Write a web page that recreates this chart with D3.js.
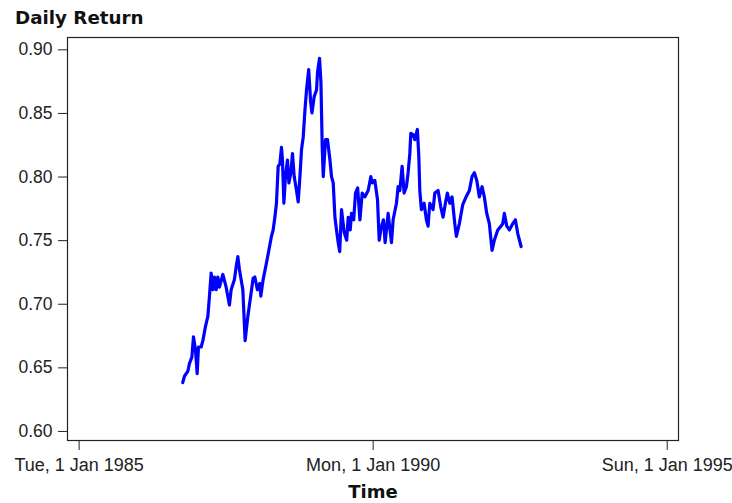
<!DOCTYPE html>
<html>
<head>
<meta charset="utf-8">
<script src="https://cdn.jsdelivr.net/npm/d3@7"></script>
<style>
  html, body { margin: 0; padding: 0; background: #fff; }
  svg { display: block; }
</style>
</head>
<body>
<script>
// Observation times as decimal years
const years = [1986.771,1986.801,1986.859,1986.886,1986.927,1986.954,1986.988,1987.017,1987.039,1987.085,
  1987.114,1987.158,1987.199,1987.226,1987.255,1987.284,1987.311,1987.340,1987.369,1987.396,
  1987.454,1987.510,1987.566,1987.595,1987.651,1987.680,1987.709,1987.736,1987.794,1987.833,
  1987.876,1987.918,1987.969,1987.998,1988.042,1988.083,1988.100,1988.139,1988.195,1988.236,
  1988.280,1988.309,1988.338,1988.365,1988.394,1988.423,1988.450,1988.467,1988.491,1988.518,
  1988.552,1988.576,1988.610,1988.637,1988.666,1988.705,1988.734,1988.763,1988.790,1988.819,
  1988.848,1988.875,1988.912,1988.943,1988.967,1989.006,1989.045,1989.062,1989.096,1989.120,
  1989.142,1989.159,1989.198,1989.232,1989.273,1989.300,1989.329,1989.358,1989.385,1989.414,
  1989.439,1989.470,1989.516,1989.558,1989.584,1989.618,1989.640,1989.677,1989.708,1989.745,
  1989.783,1989.822,1989.867,1989.924,1989.969,1989.997,1990.037,1990.082,1990.111,1990.145,
  1990.184,1990.212,1990.263,1990.320,1990.348,1990.405,1990.433,1990.462,1990.501,1990.535,
  1990.574,1990.603,1990.632,1990.649,1990.688,1990.717,1990.761,1990.785,1990.802,1990.829,
  1990.875,1990.914,1990.943,1990.972,1991.028,1991.057,1991.113,1991.159,1991.198,1991.237,
  1991.271,1991.312,1991.351,1991.397,1991.424,1991.475,1991.533,1991.589,1991.645,1991.691,
  1991.730,1991.771,1991.815,1991.861,1991.900,1991.941,1991.985,1992.031,1992.070,1992.128,
  1992.184,1992.213,1992.240,1992.281,1992.325,1992.383,1992.427,1992.468,1992.524];

// Series values
const values = [0.638,0.643,0.647,0.653,0.658,0.674,0.664,0.645,0.666,0.666,
  0.671,0.682,0.690,0.706,0.724,0.711,0.721,0.711,0.721,0.713,
  0.723,0.713,0.699,0.711,0.719,0.729,0.737,0.727,0.711,0.671,
  0.689,0.703,0.720,0.721,0.711,0.716,0.706,0.719,0.732,0.742,
  0.753,0.758,0.768,0.779,0.808,0.810,0.823,0.813,0.779,0.800,
  0.813,0.795,0.803,0.818,0.800,0.789,0.780,0.800,0.821,0.831,
  0.852,0.868,0.884,0.860,0.850,0.863,0.868,0.882,0.893,0.874,
  0.823,0.800,0.829,0.829,0.813,0.800,0.795,0.768,0.758,0.748,
  0.741,0.774,0.756,0.750,0.768,0.758,0.771,0.766,0.787,0.791,
  0.766,0.787,0.784,0.789,0.800,0.795,0.797,0.782,0.750,0.760,
  0.766,0.748,0.771,0.748,0.766,0.779,0.792,0.789,0.808,0.787,
  0.792,0.803,0.818,0.834,0.833,0.829,0.837,0.816,0.789,0.774,
  0.779,0.766,0.761,0.779,0.774,0.787,0.789,0.776,0.768,0.779,
  0.787,0.779,0.784,0.763,0.753,0.763,0.778,0.784,0.789,0.800,
  0.803,0.797,0.784,0.792,0.784,0.771,0.763,0.742,0.750,0.758,
  0.761,0.763,0.771,0.761,0.758,0.763,0.766,0.755,0.745];

// Axis ticks
const xTickYears = [1985, 1990, 1995];
const yTickValues = [0.60, 0.65, 0.70, 0.75, 0.80, 0.85, 0.90];

const titleText = "Daily Return";
const xAxisTitle = "Time";

const W = 732, H = 503;
const plot = { left: 67, top: 37, right: 679, bottom: 441 };

function decimalYearToDate(t) {
  const y = Math.floor(t);
  const start = Date.UTC(y, 0, 1), end = Date.UTC(y + 1, 0, 1);
  return new Date(start + (t - y) * (end - start));
}

const data = years.map((t, i) => ({ date: decimalYearToDate(t), value: values[i] }));

const x = d3.scaleUtc()
  .domain([decimalYearToDate(1984.803), decimalYearToDate(1995.209)])
  .range([plot.left, plot.right]);

const y = d3.scaleLinear()
  .domain([0.5921, 0.9097])
  .range([plot.bottom, plot.top]);

const svg = d3.select("body").append("svg")
  .attr("width", W).attr("height", H);

// Title
svg.append("text")
  .attr("x", 15).attr("y", 23.5)
  .attr("font-family", "'DejaVu Sans', sans-serif")
  .attr("font-weight", "bold")
  .attr("font-size", 18.3)
  .attr("fill", "#111")
  .text(titleText);

// Y axis
const yAxis = svg.append("g")
  .attr("transform", `translate(${plot.left},0)`)
  .call(d3.axisLeft(y).tickValues(yTickValues).tickFormat(d3.format(".2f"))
    .tickSize(9).tickPadding(5.5));
yAxis.select(".domain").remove();
yAxis.selectAll(".tick line").attr("stroke", "#222");
yAxis.selectAll("text")
  .attr("font-family", "'Liberation Sans', Arial, sans-serif")
  .attr("font-size", 17.5)
  .attr("fill", "#222");

// X axis
const xAxis = svg.append("g")
  .attr("transform", `translate(0,${plot.bottom})`)
  .call(d3.axisBottom(x)
    .tickValues(xTickYears.map(yr => new Date(Date.UTC(yr, 0, 1))))
    .tickFormat(d3.utcFormat("%a, %-d %b %Y"))
    .tickSize(9).tickPadding(8.5));
xAxis.select(".domain").remove();
xAxis.selectAll(".tick line").attr("stroke", "#222");
xAxis.selectAll("text")
  .attr("font-family", "'Liberation Sans', Arial, sans-serif")
  .attr("font-size", 18)
  .attr("fill", "#222");

// X axis title
svg.append("text")
  .attr("x", (plot.left + plot.right) / 2).attr("y", 498)
  .attr("text-anchor", "middle")
  .attr("font-family", "'DejaVu Sans', sans-serif")
  .attr("font-weight", "bold")
  .attr("font-size", 18)
  .attr("fill", "#111")
  .text(xAxisTitle);

// Series line
const line = d3.line()
  .x(d => x(d.date))
  .y(d => y(d.value));

svg.append("path")
  .datum(data)
  .attr("fill", "none")
  .attr("stroke", "#0000ff")
  .attr("stroke-width", 3.2)
  .attr("stroke-linejoin", "round")
  .attr("stroke-linecap", "round")
  .attr("d", line);

// Plot frame
svg.append("rect")
  .attr("x", plot.left + 0.5).attr("y", plot.top + 0.5)
  .attr("width", plot.right - plot.left - 1)
  .attr("height", plot.bottom - plot.top - 1)
  .attr("fill", "none")
  .attr("stroke", "#222")
  .attr("stroke-width", 1.2);
</script>
</body>
</html>
